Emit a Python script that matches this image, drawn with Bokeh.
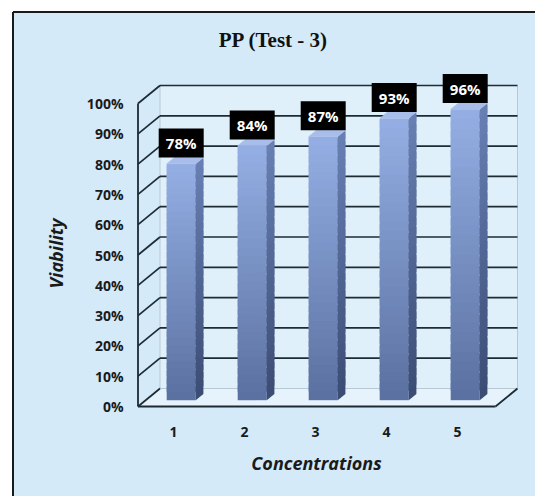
import numpy as np
from bokeh.plotting import figure
from bokeh.models import Range1d
from bokeh.core.properties import value
from bokeh.embed import file_html
from bokeh.resources import INLINE

# ---------------- data ----------------
categories = ["1", "2", "3", "4", "5"]
viability = [78, 84, 87, 93, 96]
value_labels = ["78%", "84%", "87%", "93%", "96%"]
y_ticks = [0, 10, 20, 30, 40, 50, 60, 70, 80, 90, 100]
y_tick_labels = ["0%", "10%", "20%", "30%", "40%", "50%", "60%", "70%", "80%", "90%", "100%"]
chart_title = "PP (Test - 3)"
x_title = "Concentrations"
y_title = "Viability"

# ---------------- layout (page pixels -> data units) ----------------
W, H = 535, 496
X_ORIGIN_PX, X_STEP_PX = 173.0, 71.0
Y_ZERO_PX, Y_PX_PER = 406.0, 3.03


def px2x(px):
    return 1 + (px - X_ORIGIN_PX) / X_STEP_PX


def py2y(py):
    return (Y_ZERO_PX - py) / Y_PX_PER


DX = 22.0 / X_STEP_PX      # full depth (x)
DY = 18.0 / Y_PX_PER       # full depth (y)
X0, X1 = 0.5, px2x(495)    # front floor extent
F1, BD = 0.35, 0.35        # bar front depth fraction, bar depth fraction
BW = 29.0 / X_STEP_PX      # bar width

BG = "#d4eaf9"
WALL = "#e0f0fb"
FLOOR = "#e6f3fc"
DARK = "#1e2b33"
LIGHT = "#b9c9d4"
TXT = "#1a1a1a"

p = figure(width=W, height=H, output_backend="svg", toolbar_location=None,
           x_range=Range1d(px2x(0), px2x(W)),
           y_range=Range1d(py2y(H), py2y(0)),
           x_axis_location=None, y_axis_location=None, min_border=0)
p.grid.visible = False
p.outline_line_color = None
p.background_fill_color = "white"
p.border_fill_color = "white"

# chart box
p.quad(left=px2x(12), right=px2x(600), top=py2y(11), bottom=py2y(600),
       fill_color=BG, line_color=None)
p.segment(x0=[px2x(12.5), px2x(12.5)], y0=[py2y(11.5), py2y(11.5)],
          x1=[px2x(12.5), px2x(600)], y1=[py2y(600), py2y(11.5)],
          line_color="#1a1a1a", line_width=2)

# walls
top = y_ticks[-1]
p.patch([X0 + DX, X1 + DX, X1 + DX, X0 + DX], [DY, DY, top + DY, top + DY],
        fill_color=WALL, line_color=None)
p.patch([X0, X1, X1 + DX, X0 + DX], [0, 0, DY, DY], fill_color=FLOOR, line_color=None)

# light edges of back wall
p.segment(x0=[X0 + DX, X1 + DX, X0 + DX], y0=[DY, DY, DY],
          x1=[X0 + DX, X1 + DX, X1 + DX], y1=[top + DY, top + DY, DY],
          line_color=LIGHT, line_width=1)

# gridlines on back wall and left wall
gt = [t for t in y_ticks if t > 0]
p.segment(x0=[X0 + DX] * len(gt), y0=[t + DY for t in gt],
          x1=[X1 + DX] * len(gt), y1=[t + DY for t in gt],
          line_color=DARK, line_width=1.7)
p.segment(x0=[X0] * len(y_ticks), y0=y_ticks,
          x1=[X0 + DX] * len(y_ticks), y1=[t + DY for t in y_ticks],
          line_color=DARK, line_width=1.7)
# front axis and floor edges
p.segment(x0=[X0, X0, X1], y0=[0, 0, 0], x1=[X0, X1, X1 + DX], y1=[top, 0, DY],
          line_color=DARK, line_width=1.8)

# bars (3D look with vertical gradient)
xs = np.arange(1, len(categories) + 1, dtype=float)
vals = np.array(viability, dtype=float)
N = 30


def mix(c1, c2, t):
    a = [int(c1[i:i + 2], 16) for i in (1, 3, 5)]
    b = [int(c2[i:i + 2], 16) for i in (1, 3, 5)]
    return "#%02x%02x%02x" % tuple(int(round(a[k] + (b[k] - a[k]) * t)) for k in range(3))


FRONT_BOT, FRONT_TOP = "#5a70a0", "#95afe4"
SIDE_BOT, SIDE_TOP = "#3b4c74", "#6880b4"
TOPC = "#a8bdea"

fl, fr, fb, ft, fc = [], [], [], [], []
sxs, sys, sc = [], [], []
for xi, v in zip(xs, vals):
    left = xi - BW / 2 + F1 * DX
    right = xi + BW / 2 + F1 * DX
    base = F1 * DY
    for k in range(N):
        y0 = base + v * k / N
        y1 = base + v * min(k + 1.8, N) / N
        t = (k + 0.5) / N
        fl.append(left); fr.append(right); fb.append(y0); ft.append(y1)
        fc.append(mix(FRONT_BOT, FRONT_TOP, t))
        sxs.append([right, right + BD * DX, right + BD * DX, right])
        sys.append([y0, y0 + BD * DY, y1 + BD * DY, y1])
        sc.append(mix(SIDE_BOT, SIDE_TOP, t))
p.quad(left=fl, right=fr, bottom=fb, top=ft, fill_color=fc, line_color=None)
p.patches(sxs, sys, fill_color=sc, line_color=None)

tops = vals + F1 * DY
lefts = xs - BW / 2 + F1 * DX
rights = xs + BW / 2 + F1 * DX
p.patches([[l, r, r + BD * DX, l + BD * DX] for l, r in zip(lefts, rights)],
          [[t, t, t + BD * DY, t + BD * DY] for t in tops],
          fill_color=TOPC, line_color=TOPC, line_width=0.5)

# data labels
lab_x = xs + F1 * DX
lab_y = vals + (F1 + BD) * DY + 14.5 / Y_PX_PER
p.rect(x=lab_x, y=lab_y, width=45, height=29, width_units="screen", height_units="screen",
       fill_color="black", line_color=None)
p.text(x=lab_x, y=lab_y, text=value_labels, text_align="center", text_baseline="middle",
       text_color="white", text_font=value("Open Sans"), text_font_style="bold",
       text_font_size="15px")

# tick labels
p.text(x=[px2x(123)] * len(y_ticks), y=y_ticks, text=y_tick_labels, text_align="right",
       text_baseline="middle", text_color=TXT, text_font=value("Open Sans"),
       text_font_style="bold", text_font_size="14px")
p.text(x=xs, y=[py2y(431)] * len(xs), text=categories, text_align="center",
       text_baseline="middle", text_color=TXT, text_font=value("Open Sans"),
       text_font_style="bold", text_font_size="14px")

# titles
p.text(x=[px2x(273)], y=[py2y(39)], text=[chart_title], text_align="center",
       text_baseline="middle", text_color="#111111", text_font=value("Liberation Serif"),
       text_font_style="bold", text_font_size="21px")
p.text(x=[px2x(316)], y=[py2y(462)], text=[x_title], text_align="center", text_baseline="middle",
       text_color=TXT, text_font=value("Open Sans"), text_font_style="bold italic",
       text_font_size="18px")
p.text(x=[px2x(55)], y=[py2y(253)], text=[y_title], text_align="center", text_baseline="middle",
       angle=np.pi / 2, text_color=TXT, text_font=value("Open Sans"),
       text_font_style="bold italic", text_font_size="18px")

open("out.html", "w").write(file_html(p, INLINE))
